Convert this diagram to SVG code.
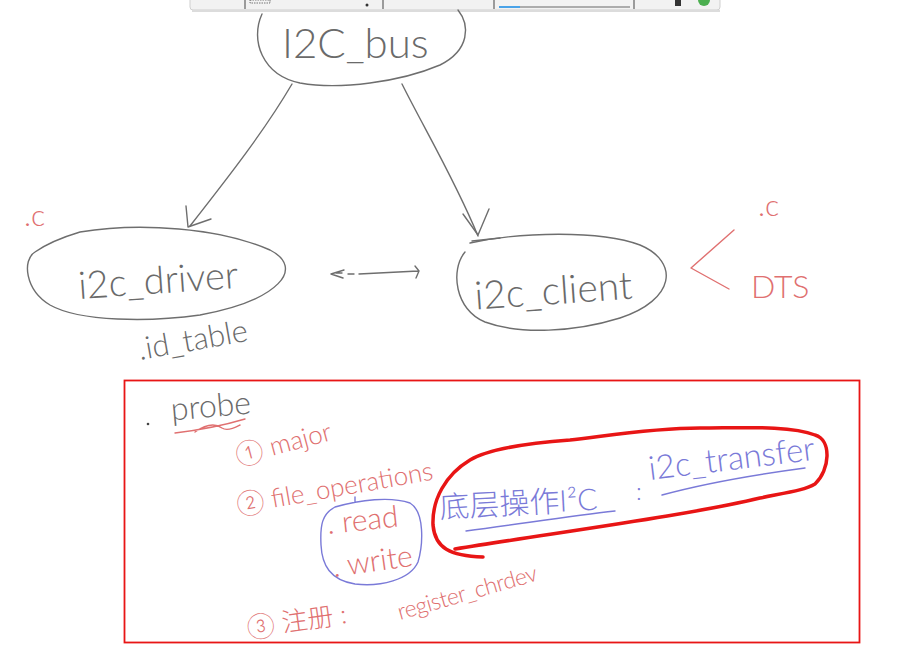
<svg xmlns="http://www.w3.org/2000/svg" width="904" height="655" viewBox="0 0 904 655">
<defs>
<style>
.ink{fill:none;stroke:#6e6e6e;stroke-width:1.4;stroke-linecap:round;stroke-linejoin:round}
.gt{fill:#6a6a6a;font-family:Lato,"Open Sans","Liberation Sans",sans-serif;font-weight:300}
.rt{fill:#e07070;font-family:Lato,"Open Sans","Liberation Sans","Noto Sans CJK SC",sans-serif;font-weight:300}
.bt{fill:#7a7ad8;font-family:Lato,"Open Sans","Liberation Sans","Noto Sans CJK SC",sans-serif;font-weight:300}
.rl{fill:none;stroke:#e07070;stroke-width:1.4;stroke-linecap:round;stroke-linejoin:round}
.bl{fill:none;stroke:#7a7ad8;stroke-width:1.4;stroke-linecap:round;stroke-linejoin:round}
.big{fill:none;stroke:#e81515;stroke-width:3.5;stroke-linecap:round;stroke-linejoin:round}
</style>
</defs>
<rect width="904" height="655" fill="#ffffff"/>
<g id="toolbar">
<rect x="190" y="-6" width="530" height="16" rx="3" fill="#f2f2f2" stroke="#cfcfcf"/>
<rect x="192" y="10" width="528" height="2" fill="#dcdcdc"/>
<line x1="245" y1="0" x2="245" y2="9" stroke="#444" stroke-width="1"/>
<line x1="383" y1="0" x2="383" y2="9" stroke="#444" stroke-width="1"/>
<line x1="494" y1="0" x2="494" y2="9" stroke="#444" stroke-width="1"/>
<line x1="634" y1="0" x2="634" y2="9" stroke="#444" stroke-width="1"/>
<rect x="250" y="0" width="20" height="3" fill="none" stroke="#555" stroke-width="0.8" stroke-dasharray="1.5 1"/>
<line x1="499" y1="7" x2="630" y2="7" stroke="#666" stroke-width="1"/>
<line x1="499" y1="7" x2="520" y2="7" stroke="#4aa3e8" stroke-width="2"/>
<circle cx="367" cy="5" r="1.5" fill="#333"/>
<circle cx="704" cy="0" r="6" fill="#4caf50"/>
<rect x="675" y="0" width="6" height="6" fill="#333"/>
</g>
<g id="connectors">
<path class="ink" d="M292,84 C265,130 230,175 190,226"/>
<path class="ink" d="M186,206 L188,227 L211,219"/>
<path class="ink" d="M402,84 C425,130 455,180 478,236"/>
<path class="ink" d="M463,214 L478,235 L489,209"/>
<path class="ink" d="M344,270 L331,274 L343,278 M336,273 L342,273 M348,274 L354,274 M359,274 L418,271 M415,266 L419,271 L416,278"/>
</g>
<g id="i2c_bus">
<path class="ink" d="M262,14 C250,40 262,75 300,83 C340,90 400,82 440,65 C470,50 470,25 458,10"/>
<text class="gt" x="282" y="58" font-size="42">I2C_bus</text>
</g>
<g id="i2c_driver">
<path class="ink" d="M80,232 C140,222 220,228 270,250 C305,268 280,300 200,315 C150,322 80,322 50,305 C25,290 22,260 35,252 C45,245 60,238 80,232 Z"/>
<text class="gt" x="78" y="294" font-size="38" transform="rotate(-4 150 280)">i2c_driver</text>
<text class="rt" x="24" y="226" font-size="30">.c</text>
<text class="gt" x="140" y="360" font-size="31" transform="rotate(-10 140 360)">.id_table</text>
</g>
<g id="i2c_client">
<path class="ink" d="M470,243 C520,232 600,230 640,245 C680,262 675,300 620,318 C575,332 520,335 485,322 C455,310 450,270 465,252"/>
<path class="ink" d="M472,241 L500,238"/>
<text class="gt" x="474" y="304" font-size="39" transform="rotate(-4 555 285)">i2c_client</text>
<path class="rl" d="M734,230 L691,268 L729,289"/>
<text class="rt" x="758" y="216" font-size="30">.c</text>
<text class="rt" x="751" y="298" font-size="32">DTS</text>
</g>
<g id="probe_box">
<rect x="124.5" y="380.5" width="735" height="262" fill="none" stroke="#e81515" stroke-width="1.8"/>
<circle cx="148" cy="424" r="1.3" fill="#444"/>
<text class="gt" x="171" y="418" font-size="32" transform="rotate(-5 200 410)">probe</text>
<path class="rl" d="M175,433 C200,430 225,425 245,419 M195,432 C205,425 215,423 222,428 C228,432 238,426 240,425"/>
<text class="rt" x="238" y="465" font-size="26" transform="rotate(-15 238 465)">① major</text>
<text class="rt" x="238" y="514" font-size="26" transform="rotate(-10 238 514)">② file_operations</text>
<path class="bl" d="M355,497 L355,502 M335,507 C360,500 390,496 410,503 C425,512 423,545 418,562 C410,580 380,587 355,584 C330,580 322,565 321,545 C320,525 322,514 335,507 Z"/>
<text class="rt" x="328" y="534" font-size="30" transform="rotate(-6 328 534)">. read</text>
<text class="rt" x="334" y="577" font-size="30" transform="rotate(-8 334 577)">. write</text>
<path class="big" d="M455,549 C560,532 690,515 760,498 C790,492 805,490 815,484 C830,470 832,440 815,435 C790,425 740,428 700,428 C650,428 600,437 570,440 C530,443 490,448 470,460 C445,475 432,500 433,525 C435,548 450,556 483,557"/>
<text class="bt" x="440" y="518" font-size="30" transform="rotate(-3 440 518)">底层操作I²C</text>
<path class="bl" d="M466,531 C520,524 570,516 615,511"/>
<text class="bt" x="636" y="500" font-size="24">:</text>
<text class="bt" x="650" y="480" font-size="33" transform="rotate(-7 650 480)">i2c_transfer</text>
<path class="bl" d="M662,495 C710,482 760,474 805,468"/>
<text class="rt" x="248" y="637" font-size="26" transform="rotate(-8 248 637)">③ 注册 :</text>
<text class="rt" x="400" y="620" font-size="23" letter-spacing="-0.5" transform="rotate(-16 400 620)">register_chrdev</text>
</g>
</svg>
